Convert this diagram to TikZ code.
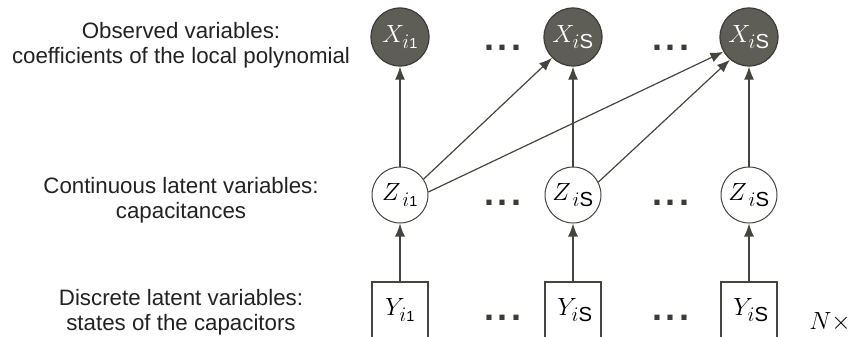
\documentclass[tikz,border=0pt]{standalone}
\usepackage{fontspec}
\setmainfont{Liberation Sans}
\setsansfont{Liberation Sans}
\usetikzlibrary{arrows.meta}
\definecolor{obsfill}{HTML}{5E5E57}
\definecolor{obsline}{HTML}{3C3C37}
\definecolor{edgecol}{HTML}{45453F}
\definecolor{txtcol}{HTML}{222222}
\newcommand{\subone}{i{\scriptscriptstyle\mathsf{1}}}
\begin{document}
\begin{tikzpicture}[x=1pt,y=-1pt,
  obs/.style={circle,draw=obsline,line width=1.2pt,fill=obsfill,text=white,minimum size=58pt,inner sep=0pt,font=\fontsize{29}{32}\selectfont},
  lat/.style={circle,draw=edgecol,line width=1pt,fill=white,minimum size=56pt,inner sep=0pt,font=\fontsize{29}{32}\selectfont},
  ybox/.style={rectangle,draw=edgecol,line width=1.2pt,minimum width=56pt,minimum height=70pt,inner sep=0pt},
  ylab/.style={font=\fontsize{29}{32}\selectfont},
  desc/.style={align=center,text=txtcol,font=\fontsize{22.3}{25}\selectfont},
  dotsnode/.style={text=obsline,font=\fontsize{36}{36}\selectfont\bfseries},
  arr/.style={draw=edgecol,line width=1.2pt,-{Latex[length=13pt,width=10pt]}}]
\useasboundingbox (0,0) rectangle (856,337);
% descriptions
\node[desc] (d1) at (181,45) {Observed variables:\\coefficients of the local polynomial};
\node[desc] (d2) at (181,200) {Continuous latent variables:\\capacitances};
\node[desc] (d3) at (181,312) {Discrete latent variables:\\states of the capacitors};
% observed
\node[obs] (X1) at (400,37) {$X_{\subone}$};
\node[obs] (X2) at (573,37) {$X_{i\mathsf{S}}$};
\node[obs] (X3) at (749,37) {$X_{i\mathsf{S}}$};
% continuous latent
\node[lat] (Z1) at (400,195) {$Z_{\,\subone}$};
\node[lat] (Z2) at (573,195) {$Z_{\,i\mathsf{S}}$};
\node[lat] (Z3) at (749,195) {$Z_{\,i\mathsf{S}}$};
% discrete latent (boxes run past the lower edge)
\node[ybox] (Y1) at (400,317) {};
\node[ybox] (Y2) at (573,317) {};
\node[ybox] (Y3) at (749,317) {};
\node[ylab] (Yl1) at (400,310) {$Y_{\subone}$};
\node[ylab] (Yl2) at (575,310) {$Y_{i\mathsf{S}}$};
\node[ylab] (Yl3) at (751,310) {$Y_{i\mathsf{S}}$};
% dots
\foreach \r/\yy in {a/48,b/203,c/318}{
  \node[dotsnode] (dots1\r) at (503,\yy) {.\hspace{3.2pt}.\hspace{3.2pt}.};
  \node[dotsnode] (dots2\r) at (671,\yy) {.\hspace{3.2pt}.\hspace{3.2pt}.};
}
\node[ylab] (N) at (830,322) {$N\times$};
% edges
\draw[arr] (Y1.north) -- (Z1.south);
\draw[arr] (Y2.north) -- (Z2.south);
\draw[arr] (Y3.north) -- (Z3.south);
\draw[arr] (Z1.north) -- (X1.south);
\draw[arr] (Z2.north) -- (X2.south);
\draw[arr] (Z3.north) -- (X3.south);
\draw[arr] (Z1.34) -- (X2.225);
\draw[arr] (Z1.6) -- (X3.210);
\draw[arr] (Z2.27) -- (X3.230);
\end{tikzpicture}
\end{document}
